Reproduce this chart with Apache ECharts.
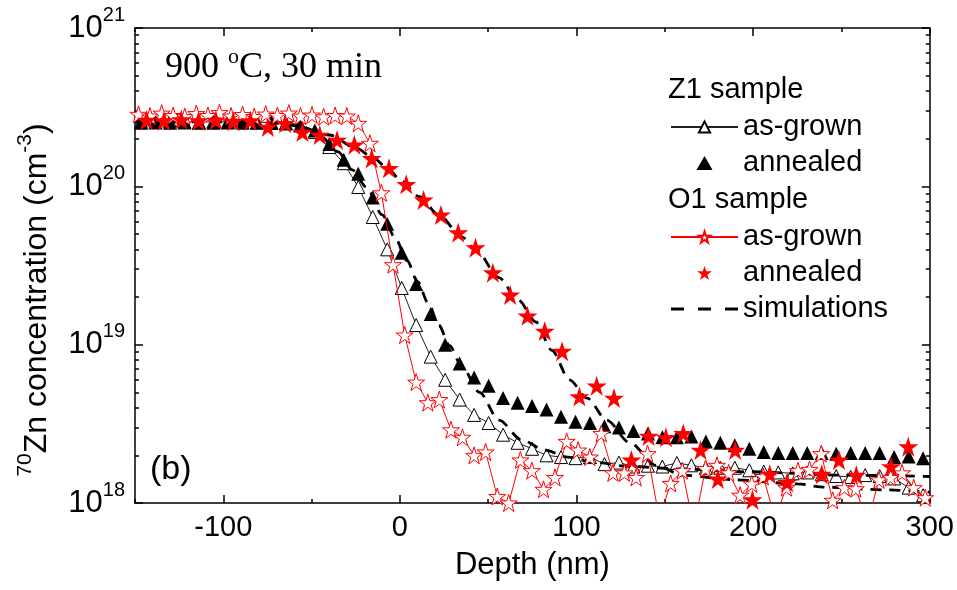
<!DOCTYPE html>
<html><head><meta charset="utf-8">
<script src="https://cdn.jsdelivr.net/npm/echarts@6/dist/echarts.min.js"></script>
<style>html,body{margin:0;padding:0;background:#fff}#c{width:957px;height:590px}</style>
</head><body><div id="c"></div>
<script>
// ---- tick definitions ----
const xTicks = [-100, 0, 100, 200, 300];
const xMinorTicks = [-150, -50, 50, 150, 250];
const yDecades = [18, 19, 20, 21];
const yMinorMantissas = [2, 3, 4, 5, 6, 7, 8, 9];

// ---- Z1 sample (same depth grid for as-grown and annealed) ----
const z1Depth = [-146.6,-138.4,-130.2,-122,-113.8,-105.6,-97.4,-89.2,-81,-72.8,-64.6,-56.4,-48.2,-40,-31.8,-23.6,-15.4,-7.2,1,9.2,17.4,25.6,33.8,42,50.2,58.4,66.6,74.8,83,91.2,99.4,107.6,115.8,124,132.2,140.4,148.6,156.8,165,173.2,181.4,189.6,197.8,206,214.2,222.4,230.6,238.8,247,255.2,263.4,271.6,279.8,288,296.2];
const z1AsGrown = [2.56e20,2.55e20,2.57e20,2.55e20,2.54e20,2.56e20,2.55e20,2.55e20,2.54e20,2.53e20,2.5e20,2.44e20,2.2e20,1.77e20,1.4e20,9.9e19,6.4e19,4.0e19,2.28e19,1.33e19,8.4e18,6.0e18,4.5e18,3.6e18,3.2e18,2.7e18,2.4e18,2.2e18,2.0e18,1.95e18,1.92e18,1.95e18,1.76e18,1.8e18,1.7e18,1.72e18,1.7e18,1.79e18,1.73e18,1.67e18,1.67e18,1.67e18,1.61e18,1.58e18,1.56e18,1.54e18,1.56e18,1.52e18,1.48e18,1.46e18,1.5e18,1.48e18,1.43e18,1.25e18,1.12e18];
const z1Annealed = [2.52e20,2.53e20,2.52e20,2.53e20,2.52e20,2.52e20,2.53e20,2.52e20,2.52e20,2.51e20,2.5e20,2.42e20,2.25e20,1.85e20,1.47e20,1.2e20,8.5e19,5.8e19,3.8e19,2.42e19,1.56e19,1.0e19,7.6e18,6.2e18,5.5e18,4.6e18,4.3e18,4.1e18,3.9e18,3.5e18,3.26e18,3.2e18,3.05e18,3.0e18,2.85e18,2.75e18,2.6e18,2.6e18,2.63e18,2.45e18,2.4e18,2.32e18,2.2e18,2.1e18,2.07e18,2.07e18,2.07e18,2.07e18,2.05e18,2.07e18,2.07e18,2.07e18,1.95e18,1.97e18,1.92e18];

// ---- O1 sample ----
const o1AsGrownDepth = [-148,-141.5,-134.9,-128.4,-121.8,-115.3,-108.7,-102.2,-95.6,-89.1,-82.5,-76,-69.4,-62.9,-56.3,-49.8,-43.2,-36.7,-30.1,-23.6,-17,-10.5,-3.9,2.7,9.2,15.8,22.3,28.9,35.4,42,48.5,55.1,61.6,68.2,74.7,81.3,87.8,94.4,100.9,107.5,114,120.6,127.1,133.7,140.2,146.8,153.3,159.9,166.4,173,179.5,186.1,192.6,199.2,205.7,212.3,218.8,225.4,231.9,238.5,245,251.6,258.1,264.7,271.2,277.8,284.3,290.9,297.4];
const o1AsGrown = [2.85e20,2.78e20,2.9e20,2.8e20,2.76e20,2.88e20,2.8e20,2.92e20,2.78e20,2.84e20,2.76e20,2.86e20,2.8e20,2.9e20,2.78e20,2.82e20,2.75e20,2.8e20,2.78e20,2.5e20,1.87e20,9.1e19,3.2e19,1.15e19,5.8e18,4.3e18,4.5e18,2.9e18,2.6e18,2.0e18,2.1e18,1.1e18,1.0e18,1.87e18,1.6e18,1.22e18,1.45e18,2.45e18,2.16e18,1.95e18,2.75e18,1.55e18,1.55e18,1.45e18,2.05e18,8e17,1.33e18,1.6e18,7e17,1.65e18,1.73e18,1.55e18,1.12e18,1.32e18,1.47e18,8e17,1.25e18,1.6e18,1.63e18,2.05e18,1.04e18,1.25e18,1.23e18,7.5e17,1.4e18,1.45e18,1.55e18,1.25e18,1.08e18];
const o1AnnealedDepth = [-143.4,-133.6,-123.8,-114,-104.2,-94.4,-84.6,-74.8,-65,-55.2,-45.4,-35.6,-25.8,-16,-6.2,3.6,13.4,23.2,33,42.8,52.6,62.4,72.2,82,91.8,101.6,111.4,121.2,131,140.8,150.6,160.4,170.2,180,189.8,199.6,209.4,219.2,238.8,248.6,258.4,278,287.8];
const o1Annealed = [2.62e20,2.6e20,2.64e20,2.6e20,2.62e20,2.58e20,2.6e20,2.37e20,2.5e20,2.2e20,2.11e20,1.96e20,1.83e20,1.5e20,1.3e20,1.03e20,8.2e19,6.6e19,5.1e19,4.1e19,2.85e19,2.06e19,1.52e19,1.22e19,9.1e18,4.7e18,5.5e18,4.6e18,1.87e18,2.65e18,2.6e18,2.75e18,2.16e18,1.42e18,2.16e18,1.05e18,1.52e18,1.35e18,1.52e18,1.87e18,1.5e18,1.7e18,2.27e18];

// ---- simulations ----
const simZ1Depth = [-150,-70,-55,-45,-35,-27,-19,-10,-3,4,10,16,22,28,35,45,56,69,82,95,110,130,160,200,250,300];
const simZ1 = [2.55e20,2.55e20,2.37e20,2.08e20,1.65e20,1.27e20,9.9e19,6.6e19,4.8e19,3.4e19,2.5e19,1.83e19,1.33e19,9.9e18,7.3e18,5.0e18,3.34e18,2.5e18,2.16e18,1.95e18,1.81e18,1.7e18,1.64e18,1.57e18,1.5e18,1.47e18];
const simO1Depth = [-150,-80,-60,-40,-25,-15,-6,0,11,22,35,43,56,67,77,86,96,106,117,130,145,160,190,225,240,275,300];
const simO1 = [2.58e20,2.58e20,2.44e20,2.11e20,1.75e20,1.51e20,1.27e20,1.10e20,8.6e19,6.6e19,4.8e19,3.98e19,2.65e19,1.91e19,1.39e19,9.2e18,6.0e18,4.6e18,3.34e18,2.41e18,1.73e18,1.5e18,1.4e18,1.32e18,1.26e18,1.21e18,1.17e18];

const pairs = (xs, ys) => xs.map((x, i) => [x, ys[i]]);
const STAR = 'path://M50,0 L61.23,34.55 L97.55,34.55 L68.16,55.9 L79.39,90.45 L50,69.1 L20.61,90.45 L31.84,55.9 L2.45,34.55 L38.77,34.55 Z';
const TRI = 'path://M0,87 L50,0 L100,87 Z';
const DASHES = 'path://M0,0 h13 v3 h-13 Z M27,0 h13 v3 h-13 Z M54,0 h13 v3 h-13 Z';
const FONT = 'Liberation Sans';
const yMinor = [];
yDecades.slice(0, -1).forEach(d => yMinorMantissas.forEach(m => yMinor.push(d + Math.log10(m))));

const legendNames = {'Z1 as-grown':'as-grown','Z1 annealed':'annealed','O1 as-grown':'as-grown','O1 annealed':'annealed','simulations':'simulations'};
const legendBase = {
  orient: 'vertical', left: 670, padding: 0, itemWidth: 67, itemHeight: 14, itemGap: 7,
  selectedMode: false, formatter: n => legendNames[n],
  textStyle: {fontFamily: FONT, fontSize: 29, lineHeight: 29, color: '#000'}
};
const axisLineStyle = {show: true, onZero: false, lineStyle: {color: '#000', width: 1.5}};
const noLine = {show: false, onZero: false};
const hiddenLabel = {show: false};
const tickStyle = {color: '#000', width: 1.5};

const chart = echarts.init(document.getElementById('c'), null, {renderer: 'canvas'});
chart.setOption({
  animation: false,
  backgroundColor: '#fff',
  grid: {left: 135, right: 25, top: 28, bottom: 87, containLabel: false},
  xAxis: [
    {type: 'value', position: 'bottom', min: -150, max: 300, interval: 50,
     axisLine: axisLineStyle,
     axisTick: {inside: true, length: 8, customValues: xTicks, lineStyle: tickStyle},
     axisLabel: {customValues: xTicks, margin: 10, fontFamily: FONT, fontSize: 29, color: '#000',
                 formatter: v => (v % 100 === 0 ? String(v) : '')},
     splitLine: {show: false},
     name: 'Depth (nm)', nameLocation: 'middle', nameGap: 47,
     nameTextStyle: {fontFamily: FONT, fontSize: 31, color: '#000'}},
    {type: 'value', position: 'bottom', min: -150, max: 300, interval: 50,
     axisLine: noLine, axisTick: {inside: true, length: 4, customValues: xMinorTicks, lineStyle: tickStyle},
     axisLabel: hiddenLabel, splitLine: {show: false}},
    {type: 'value', position: 'top', min: -150, max: 300, interval: 50,
     axisLine: axisLineStyle, axisTick: {inside: true, length: 8, customValues: xTicks, lineStyle: tickStyle},
     axisLabel: hiddenLabel, splitLine: {show: false}},
    {type: 'value', position: 'top', min: -150, max: 300, interval: 50,
     axisLine: noLine, axisTick: {inside: true, length: 4, customValues: xMinorTicks, lineStyle: tickStyle},
     axisLabel: hiddenLabel, splitLine: {show: false}}
  ],
  yAxis: [
    {type: 'log', logBase: 10, position: 'left', min: 1e18, max: 1e21, splitNumber: 3,
     axisLine: axisLineStyle,
     axisTick: {inside: true, length: 8, lineStyle: tickStyle},
     axisLabel: {margin: 10, color: '#000',
       formatter: v => '{b|10}{s|' + Math.round(Math.log10(v)) + '}',
       rich: {b: {fontFamily: FONT, fontSize: 31, lineHeight: 46, color: '#000'},
              s: {fontFamily: FONT, fontSize: 20, lineHeight: 16, verticalAlign: 'top', color: '#000'}}},
     splitLine: {show: false}},
    {type: 'value', position: 'left', min: 18, max: 21, interval: 1,
     axisLine: noLine, axisTick: {inside: true, length: 4, customValues: yMinor, lineStyle: tickStyle},
     axisLabel: hiddenLabel, splitLine: {show: false}},
    {type: 'value', position: 'right', min: 18, max: 21, interval: 1,
     axisLine: axisLineStyle, axisTick: {inside: true, length: 8, customValues: yDecades, lineStyle: tickStyle},
     axisLabel: hiddenLabel, splitLine: {show: false}},
    {type: 'value', position: 'right', min: 18, max: 21, interval: 1,
     axisLine: noLine, axisTick: {inside: true, length: 4, customValues: yMinor, lineStyle: tickStyle},
     axisLabel: hiddenLabel, splitLine: {show: false}}
  ],
  legend: [
    Object.assign({}, legendBase, {top: 112.5, data: ['Z1 as-grown', {name: 'Z1 annealed', icon: TRI}]}),
    Object.assign({}, legendBase, {top: 222.5, data: ['O1 as-grown', {name: 'O1 annealed', icon: STAR}, {name: 'simulations', icon: DASHES}]})
  ],
  graphic: [
    {type: 'text', left: 668, top: 75, style: {text: 'Z1 sample', fontFamily: FONT, fontSize: 29, fill: '#000'}},
    {type: 'text', left: 668, top: 185, style: {text: 'O1 sample', fontFamily: FONT, fontSize: 29, fill: '#000'}},
    {type: 'text', x: 165, y: 68, style: {
      text: '{t|900 }{s|o}{t|C, 30 min}', verticalAlign: 'middle', align: 'left',
      rich: {t: {fontFamily: 'Liberation Serif', fontSize: 36, lineHeight: 44, fill: '#000'},
             s: {fontFamily: 'Liberation Serif', fontSize: 22, lineHeight: 18, verticalAlign: 'top', fill: '#000'}}}},
    {type: 'text', x: 150, y: 470, style: {text: '(b)', fontFamily: FONT, fontSize: 34, fill: '#000', verticalAlign: 'middle'}},
    {type: 'text', x: 37, y: 300, rotation: Math.PI / 2, style: {
      text: '{s|70}{t|Zn concentration (cm}{s|-3}{t|)}', align: 'center', verticalAlign: 'middle',
      rich: {t: {fontFamily: FONT, fontSize: 32, lineHeight: 44, fill: '#000'},
             s: {fontFamily: FONT, fontSize: 21, lineHeight: 16, verticalAlign: 'top', fill: '#000'}}}}
  ],
  series: [
    {name: 'Z1 as-grown', type: 'line', data: pairs(z1Depth, z1AsGrown),
     symbol: 'triangle', symbolSize: 13, showSymbol: true,
     lineStyle: {color: '#222', width: 1}, itemStyle: {color: '#fff', borderColor: '#000', borderWidth: 1, opacity: 1}, z: 2},
    {name: 'Z1 annealed', type: 'scatter', data: pairs(z1Depth, z1Annealed),
     symbol: 'triangle', symbolSize: 14, itemStyle: {color: '#000', opacity: 1}, z: 3},
    {name: 'simulations', type: 'line', data: pairs(simZ1Depth, simZ1), symbol: 'none', smooth: 0.3, smoothMonotone: 'x',
     lineStyle: {color: '#000', width: 2.8, type: [11, 8]}, itemStyle: {color: '#000'}, z: 4},
    {name: 'simulations', type: 'line', data: pairs(simO1Depth, simO1), symbol: 'none', smooth: 0.3, smoothMonotone: 'x',
     lineStyle: {color: '#000', width: 2.8, type: [11, 8]}, itemStyle: {color: '#000'}, z: 4},
    {name: 'O1 as-grown', type: 'line', data: pairs(o1AsGrownDepth, o1AsGrown),
     symbol: STAR, symbolSize: 17, showSymbol: true,
     lineStyle: {color: '#ff0000', width: 1}, itemStyle: {color: '#fff', borderColor: '#ff0000', borderWidth: 1, opacity: 1}, z: 5},
    {name: 'O1 annealed', type: 'scatter', data: pairs(o1AnnealedDepth, o1Annealed),
     symbol: STAR, symbolSize: 20, itemStyle: {color: '#ff0000', opacity: 1}, z: 6}
  ]
});
</script>
</body></html>
